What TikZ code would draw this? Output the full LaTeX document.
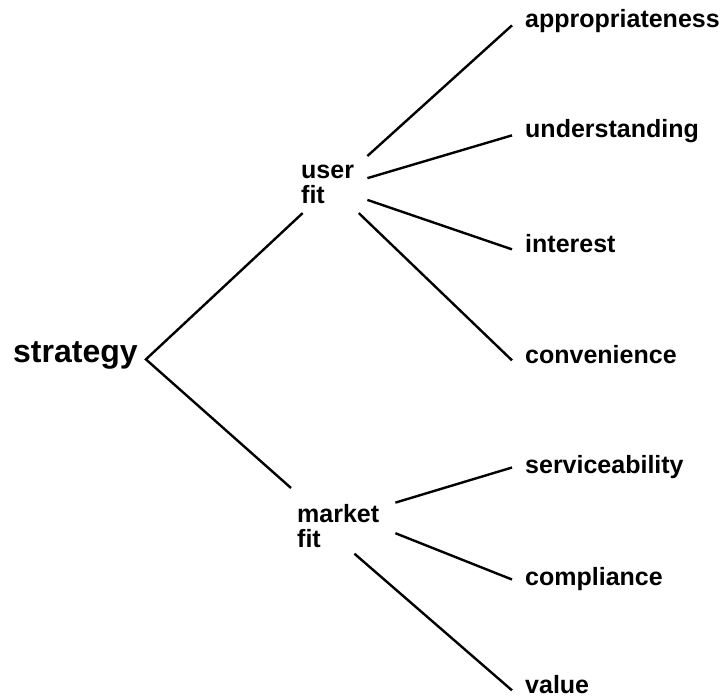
\documentclass[tikz,border=0pt]{standalone}
\usepackage{fontspec}
\setmainfont{Liberation Sans}

\begin{document}
\begin{tikzpicture}[x=1pt,y=-1pt,
    branch/.style={line width=2.4pt},
    leaf/.style={anchor=base west,inner xsep=13pt,inner ysep=0pt,text height=1ex,text depth=0pt,font=\leaffontsize\bfseries},
    aspect/.style={anchor=north west,align=left,inner xsep=6pt,font=\leaffontsize\bfseries}]
    \providecommand{\rootfontsize}{\fontsize{32}{34}\selectfont}
    \providecommand{\leaffontsize}{\fontsize{25}{25}\selectfont}
    \pgfmathsetmacro{\leafx}{512}
    \useasboundingbox (0,0) rectangle (720,698);
    % root and the two aspects
    \node[anchor=base west,inner xsep=8pt,inner ysep=0pt,text height=1ex,text depth=0pt,font=\rootfontsize\bfseries] (s) at (5,362) {strategy};
    \node[aspect,text width=60pt,inner ysep=9pt] (uf) at (295,156) {user\\fit};
    \node[aspect,text width=92pt,inner ysep=6pt] (mf) at (291,498) {market\\fit};
    % leaves
    \node[leaf] (app) at (\leafx,28) {appropriateness};
    \node[leaf] (und) at (\leafx,138) {understanding};
    \node[leaf] (int) at (\leafx,252) {interest};
    \node[leaf] (con) at (\leafx,363) {convenience};
    \node[leaf] (ser) at (\leafx,473) {serviceability};
    \node[leaf] (com) at (\leafx,585) {compliance};
    \node[leaf] (val) at (\leafx,693) {value};
    % branches
    \draw[branch] (uf.225) -- (s.east) -- ([yshift=10pt]mf.north west);
    \draw[branch] (uf.north east) -- (app.west);
    \draw[branch] (uf.10) -- (und.west);
    \draw[branch] (uf.-23) -- (int.west);
    \draw[branch] (uf.-46) -- (con.west);
    \draw[branch] (mf.24) -- (ser.north west);
    \draw[branch] (mf.-8) -- (com.north west);
    \draw[branch] (mf.-68) -- (val.west);
\end{tikzpicture}
\end{document}
